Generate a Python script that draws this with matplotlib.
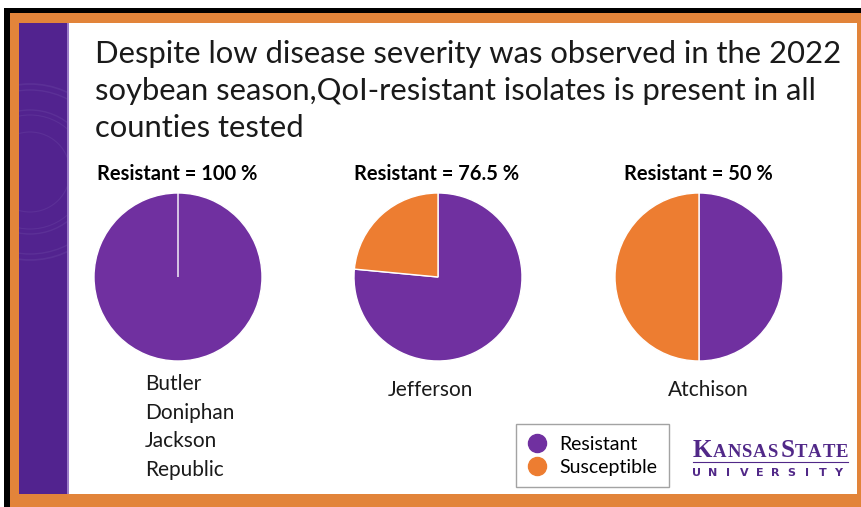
import matplotlib
matplotlib.use("Agg")
import matplotlib.pyplot as plt
from matplotlib.patches import Rectangle, Circle
from matplotlib.lines import Line2D

# ---- data ----
groups = [["Butler", "Doniphan", "Jackson", "Republic"], ["Jefferson"], ["Atchison"]]
resistant_pct = [100.0, 76.5, 50.0]
susceptible_pct = [0.0, 23.5, 50.0]
pie_titles = ["Resistant = 100 %", "Resistant = 76.5 %", "Resistant = 50 %"]
legend_labels = ["Resistant", "Susceptible"]
headline = ["Despite low disease severity was observed in the 2022",
            "soybean season,QoI-resistant isolates is present in all",
            "counties tested"]

PURPLE = "#7030A0"
ORANGE = "#ED7D31"
KSU = "#512888"
FRAME = "#E2843A"

W, H = 862, 507
fig = plt.figure(figsize=(W / 100, H / 100), dpi=100)
fig.patch.set_facecolor("white")
plt.rcParams["font.family"] = ["Lato", "DejaVu Sans"]

bg = fig.add_axes([0, 0, 1, 1])
bg.set_xlim(0, W)
bg.set_ylim(H, 0)
bg.axis("off")

# frame and slide background
bg.add_patch(Rectangle((10, 13), W - 10, H - 13, color=FRAME, lw=0))
bg.add_patch(Rectangle((4, 8), W - 4, 5, color="black", lw=0))
bg.add_patch(Rectangle((4, 8), 6, H - 8, color="black", lw=0))
bg.add_patch(Rectangle((19, 23), 838, 471, color="white", lw=0))
strip = Rectangle((19, 23), 48, 471, color="#52238F", lw=0)
bg.add_patch(strip)
bg.add_patch(Rectangle((67, 23), 2, 471, color="#9B7CC8", lw=0))

# faint seal in the side strip
for r, lw in [(88, 1.2), (82, 1.0), (62, 1.0), (57, 0.8), (40, 0.8)]:
    c = Circle((30, 172), r, fill=False, ec="#6A44A3", lw=lw, alpha=0.4)
    bg.add_patch(c)
    c.set_clip_path(strip)

# headline, one line at a time
for i, line in enumerate(headline):
    bg.text(95, 63 + i * 37, line, fontsize=22.3, color="#1a1a1a",
            va="baseline", ha="left")


def px_axes(cx, cy, r):
    return fig.add_axes([(cx - r) / W, 1 - (cy + r) / H, 2 * r / W, 2 * r / H])


centers = [(178, 277), (438, 277), (699, 277)]
radius = 84
for (cx, cy), res, sus, ttl in zip(centers, resistant_pct, susceptible_pct, pie_titles):
    ax = px_axes(cx, cy, radius)
    ax.pie([res, sus], colors=[PURPLE, ORANGE], startangle=90, counterclock=False,
           radius=1.0, wedgeprops=dict(edgecolor="white", linewidth=1.0))
    ax.set_xlim(-1.0, 1.0)
    ax.set_ylim(-1.0, 1.0)
    ax.set_aspect("equal")
    ax.axis("off")
    bg.text(cx - 1, 180, ttl, fontsize=14.5, fontweight="bold", ha="center",
            va="baseline", color="black")

# county labels under each pie
for i, name in enumerate(groups[0]):
    bg.text(145, 390 + i * 28.7, name, fontsize=15, ha="left", va="baseline",
            color="#1a1a1a")
bg.text(430, 396, groups[1][0], fontsize=15, ha="center", va="baseline", color="#1a1a1a")
bg.text(708, 396, groups[2][0], fontsize=15, ha="center", va="baseline", color="#1a1a1a")

# legend
handles = [Line2D([], [], ls="none", marker="o", ms=13, mfc=c, mec=c)
           for c in (PURPLE, ORANGE)]
leg = bg.legend(handles, legend_labels, loc="upper left",
                bbox_to_anchor=(516 / W, 1 - 424 / H), bbox_transform=fig.transFigure,
                frameon=True, fancybox=False, fontsize=14, handlelength=1.0,
                handletextpad=0.65, borderpad=0.6, labelspacing=0.3,
                borderaxespad=0)
leg.get_frame().set_edgecolor("#8c8c8c")
leg.get_frame().set_linewidth(1.0)

# university wordmark
fig.canvas.draw()
renderer = fig.canvas.get_renderer()
x = 693.0
parts = [("K", 18), ("A", 13.5), ("N", 13.5), ("S", 13.5), ("A", 13.5), ("S", 13.5),
         (" ", 13.5), ("S", 18), ("T", 13.5), ("A", 13.5), ("T", 13.5), ("E", 13.5)]
for s, fs in parts:
    t = bg.text(x, 457, s, fontsize=fs, family="Liberation Serif",
                fontweight="bold", color=KSU, ha="left", va="baseline")
    bb = t.get_window_extent(renderer)
    x += bb.width + (0.7 if s != " " else -2)
bg.plot([693, 848], [461.5, 461.5], color=KSU, lw=0.8)
for i, ch in enumerate("UNIVERSITY"):
    bg.text(697 + i * 15.7, 476, ch, fontsize=8, fontweight="bold", color=KSU,
            family="DejaVu Sans", ha="center", va="baseline")

fig.savefig("out.png", dpi=100)
